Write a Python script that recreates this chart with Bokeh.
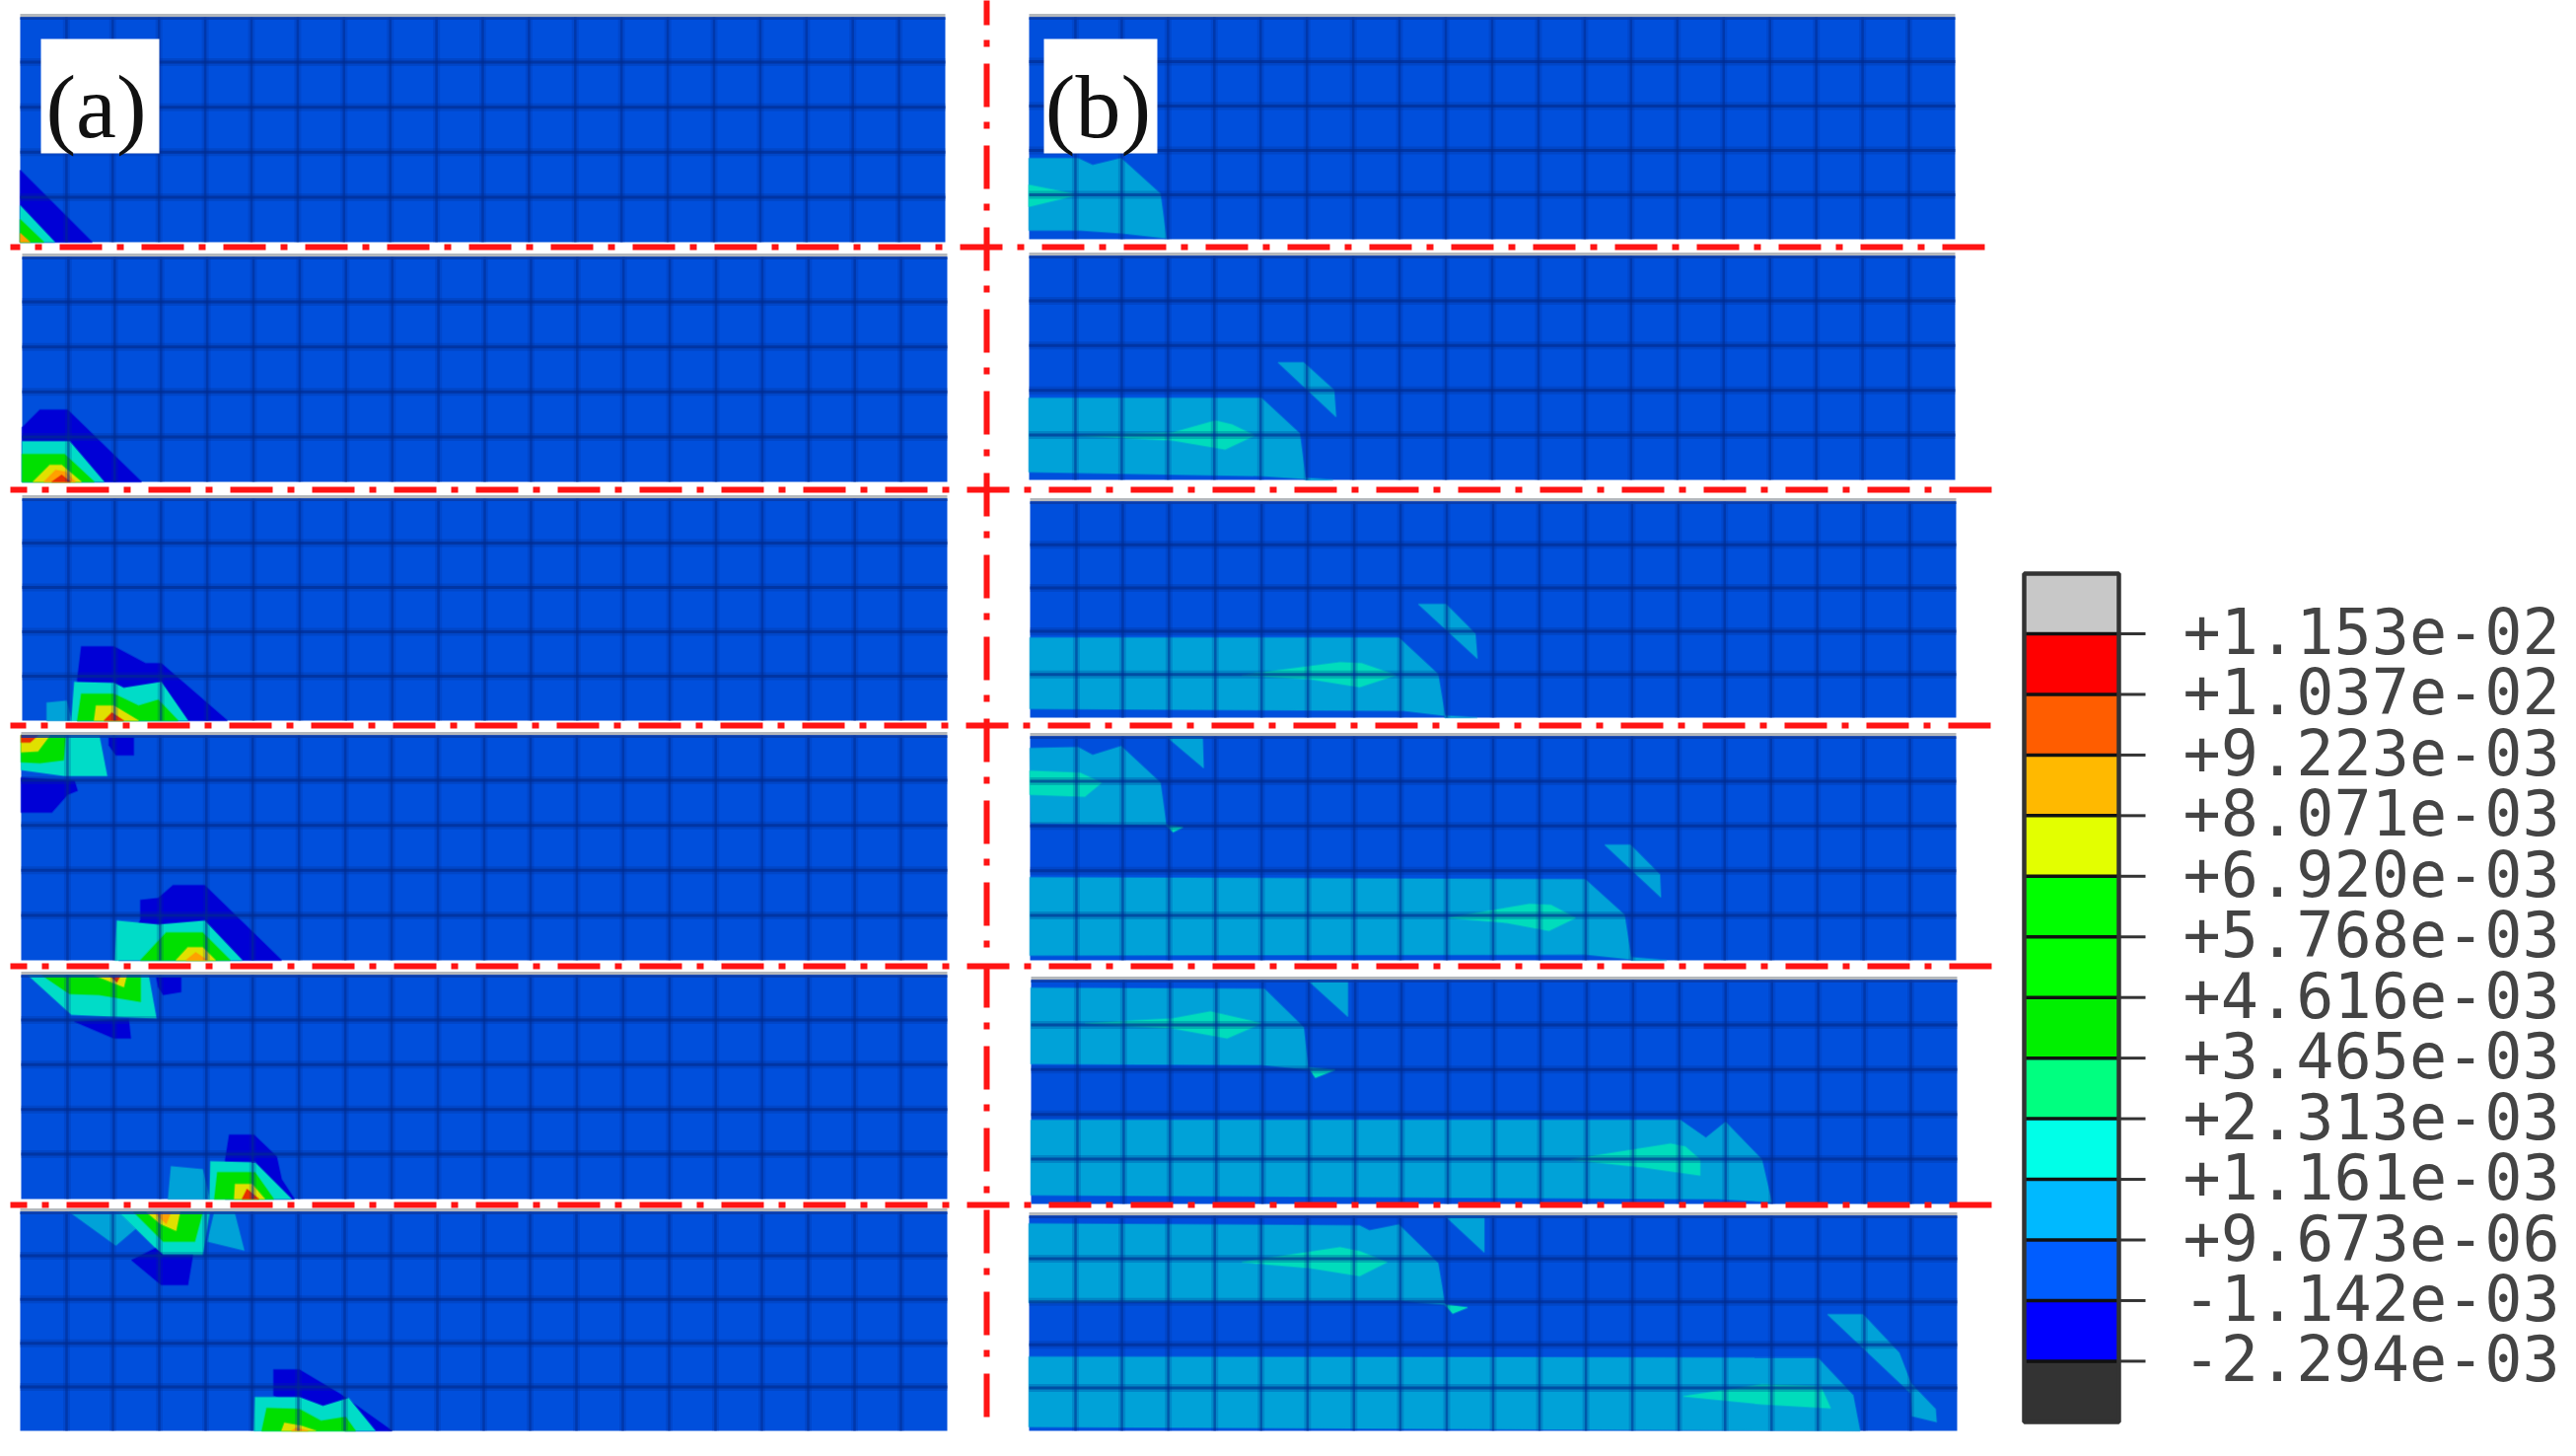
from bokeh.plotting import figure
from bokeh.embed import file_html
from bokeh.resources import INLINE
from bokeh.core.properties import value

# ---------- colours ----------
FIELD = "#004fdc"
MESH = "#002a8c"
DARK = "#0000d6"
CYAN = "#00dcc8"
SKY = "#00a2d8"
TEAL = "#00dcbc"
GREEN = "#00e000"
YEL = "#e0e000"
ORG = "#ffa000"
RED = "#e83000"

# ---------- mesh panels (left, right, top, bottom) ----------
NCOLS = 20
NROWS = 5
PANELS_A = [(20, 958, 17, 245), (22, 960, 260, 488), (22, 960, 505, 730),
            (21, 960, 745, 973), (21, 960, 988, 1215), (20, 960, 1228, 1450)]
PANELS_B = [(1043, 1982, 17, 242), (1043, 1982, 259, 486), (1044, 1983, 508, 727),
            (1044, 1983, 746, 973), (1045, 1984, 993, 1220), (1043, 1984, 1232, 1450)]

# ---------- contour regions, column (a) ----------
A1 = [
    (DARK, [(20, 172), (93, 245), (20, 245)]),
    (CYAN, [(20, 208), (55, 245), (20, 245)]),
    (GREEN, [(20, 222), (44, 245), (20, 245)]),
    (ORG, [(20, 236), (30, 245), (20, 245)]),
]
A2 = [
    (DARK, [(22, 433), (40, 415), (68, 415), (143, 488), (22, 488)]),
    (CYAN, [(22, 447), (70, 447), (105, 488), (22, 488)]),
    (GREEN, [(22, 460), (65, 460), (95, 488), (22, 488)]),
    (YEL, [(33, 488), (50, 471), (62, 471), (82, 488)]),
    (ORG, [(44, 488), (56, 476), (66, 478), (76, 488)]),
    (RED, [(52, 488), (62, 481), (71, 488)]),
]
A3 = [
    (DARK, [(82, 655), (115, 655), (147, 672), (163, 672), (230, 730), (78, 730), (78, 688)]),
    (SKY, [(47, 712), (67, 710), (72, 730), (47, 730)]),
    (CYAN, [(75, 691), (115, 692), (125, 697), (163, 691), (190, 730), (72, 730)]),
    (GREEN, [(82, 703), (115, 703), (140, 715), (160, 709), (180, 730), (78, 730)]),
    (YEL, [(97, 715), (115, 715), (140, 730), (95, 730)]),
    (RED, [(105, 730), (113, 722), (125, 730)]),
]
A4 = [
    (DARK, [(110, 747), (135, 747), (135, 765), (117, 765), (110, 755)]),
    (CYAN, [(21, 745), (100, 745), (108, 786), (65, 786), (21, 780)]),
    (GREEN, [(21, 745), (66, 745), (64, 770), (40, 773), (21, 772)]),
    (YEL, [(21, 745), (50, 745), (38, 761), (21, 762)]),
    (RED, [(21, 745), (38, 745), (30, 752), (21, 752)]),
    (DARK, [(21, 788), (75, 791), (78, 801), (68, 805), (52, 823), (21, 823)]),
    (DARK, [(142, 912), (160, 910), (175, 897), (207, 897), (285, 973), (120, 973), (142, 932)]),
    (CYAN, [(118, 933), (160, 937), (207, 933), (245, 973), (116, 973)]),
    (GREEN, [(142, 973), (168, 945), (205, 945), (233, 973)]),
    (YEL, [(178, 973), (190, 960), (205, 960), (218, 973)]),
    (ORG, [(188, 973), (198, 965), (210, 973)]),
]
A5 = [
    (CYAN, [(28, 988), (150, 988), (158, 1032), (72, 1028)]),
    (GREEN, [(42, 988), (142, 988), (142, 1015), (100, 1008), (70, 1007)]),
    (YEL, [(95, 988), (128, 988), (125, 1000), (110, 994)]),
    (RED, [(110, 988), (122, 988), (118, 995)]),
    (DARK, [(158, 990), (183, 990), (183, 1005), (165, 1008), (160, 1000)]),
    (DARK, [(75, 1035), (130, 1033), (132, 1052), (115, 1052)]),
    (DARK, [(232, 1150), (257, 1150), (280, 1172), (285, 1195), (298, 1215), (228, 1215), (228, 1175)]),
    (SKY, [(173, 1182), (205, 1185), (212, 1215), (170, 1215)]),
    (CYAN, [(213, 1177), (258, 1178), (295, 1215), (212, 1215)]),
    (GREEN, [(220, 1188), (258, 1188), (277, 1215), (217, 1215)]),
    (YEL, [(237, 1215), (238, 1200), (255, 1200), (268, 1215)]),
    (RED, [(245, 1215), (250, 1205), (262, 1215)]),
]
A6 = [
    (SKY, [(217, 1228), (237, 1228), (247, 1267), (210, 1258)]),
    (SKY, [(70, 1228), (120, 1228), (137, 1245), (117, 1262)]),
    (CYAN, [(120, 1228), (212, 1228), (205, 1272), (165, 1272)]),
    (GREEN, [(135, 1228), (205, 1228), (197, 1258), (165, 1258)]),
    (YEL, [(148, 1228), (182, 1228), (178, 1247), (162, 1240)]),
    (ORG, [(155, 1228), (173, 1228), (168, 1240)]),
    (DARK, [(133, 1277), (157, 1265), (165, 1272), (195, 1272), (190, 1302), (163, 1302)]),
    (DARK, [(277, 1388), (303, 1388), (345, 1413), (397, 1450), (350, 1450), (277, 1414)]),
    (CYAN, [(258, 1416), (303, 1416), (327, 1425), (353, 1417), (380, 1450), (257, 1450)]),
    (GREEN, [(270, 1427), (303, 1428), (325, 1440), (350, 1436), (360, 1450), (265, 1450)]),
    (YEL, [(285, 1450), (288, 1442), (305, 1445), (320, 1450)]),
    (ORG, [(295, 1450), (300, 1447), (312, 1450)]),
]

# ---------- contour regions, column (b) ----------
# x values here were read at a slightly wide scale; B_X0/B_X_SCALE calibrates them
B_X0 = 1000
B_X_SCALE = 0.9949
B1 = [
    (SKY, [(1043, 160), (1093, 160), (1108, 167), (1137, 160), (1177, 196), (1183, 241), (1138, 236), (1095, 233), (1043, 233)]),
    (TEAL, [(1043, 187), (1093, 197), (1043, 209)]),
]
B2 = [
    (SKY, [(1043, 403), (1280, 403), (1319, 439), (1325, 485), (1280, 482), (1043, 478)]),
    (SKY, [(1325, 484), (1353, 486), (1325, 486)]),
    (SKY, [(1297, 367), (1323, 367), (1354, 395), (1356, 422)]),
    (TEAL, [(1090, 441), (1190, 438), (1233, 426), (1250, 430), (1273, 441), (1243, 455), (1190, 446)]),
]
B3 = [
    (SKY, [(1044, 646), (1420, 646), (1460, 683), (1467, 725), (1425, 720), (1044, 718)]),
    (SKY, [(1467, 725), (1500, 727), (1467, 727)]),
    (SKY, [(1440, 612), (1468, 612), (1498, 642), (1500, 667)]),
    (TEAL, [(1260, 684), (1360, 671), (1382, 672), (1417, 684), (1380, 696), (1330, 688)]),
]
B4 = [
    (SKY, [(1044, 758), (1093, 757), (1108, 765), (1137, 756), (1177, 793), (1183, 836), (1045, 834)]),
    (TEAL, [(1183, 836), (1200, 838), (1190, 843)]),
    (SKY, [(1183, 746), (1220, 746), (1221, 778)]),
    (TEAL, [(1044, 781), (1095, 783), (1117, 793), (1100, 807), (1044, 805)]),
    (SKY, [(1044, 889), (1610, 891), (1650, 927), (1657, 972), (1610, 967), (1044, 968)]),
    (SKY, [(1657, 970), (1693, 973), (1657, 973)]),
    (SKY, [(1630, 856), (1656, 856), (1686, 886), (1687, 909)]),
    (TEAL, [(1470, 930), (1553, 916), (1575, 917), (1600, 930), (1573, 943), (1530, 935)]),
]
B5 = [
    (SKY, [(1045, 1001), (1283, 1002), (1323, 1041), (1328, 1084), (1280, 1079), (1045, 1078)]),
    (TEAL, [(1328, 1082), (1355, 1084), (1335, 1092)]),
    (SKY, [(1327, 993), (1368, 993), (1368, 1030)]),
    (TEAL, [(1100, 1037), (1190, 1032), (1228, 1025), (1280, 1037), (1245, 1052), (1190, 1042)]),
    (SKY, [(1045, 1135), (1707, 1135), (1733, 1153), (1753, 1137), (1790, 1175), (1800, 1218), (1745, 1215), (1045, 1211)]),
    (TEAL, [(1595, 1175), (1697, 1159), (1712, 1162), (1727, 1175), (1727, 1191), (1670, 1183)]),
]
B6 = [
    (SKY, [(1043, 1240), (1380, 1242), (1390, 1247), (1420, 1241), (1460, 1280), (1467, 1322), (1420, 1318), (1043, 1320)]),
    (TEAL, [(1467, 1322), (1490, 1325), (1475, 1331)]),
    (SKY, [(1467, 1232), (1507, 1232), (1507, 1269)]),
    (TEAL, [(1260, 1279), (1360, 1264), (1380, 1268), (1408, 1279), (1380, 1293), (1330, 1285)]),
    (SKY, [(1043, 1375), (1847, 1376), (1883, 1414), (1890, 1450), (1043, 1446)]),
    (TEAL, [(1710, 1415), (1790, 1403), (1850, 1405), (1860, 1427), (1790, 1423)]),
    (SKY, [(1857, 1332), (1893, 1332), (1930, 1371), (1942, 1402), (1967, 1428), (1968, 1441), (1943, 1435), (1942, 1412)]),
]

# ---------- labels ----------
TAGS = ["(a)", "(b)"]
TAG_BOX = [(41, 161, 39, 155), (1058, 1173, 39, 155)]
TAG_X = [97, 1113]
TAG_Y = [107, 107]

# ---------- red symmetry lines ----------
HLINE_Y = [250, 496, 735, 979, 1221]
HLINE_END = [2015, 2019, 2019, 2021, 2019]
HLINE_OFFSET = [33, 26, 27, 26, 26]
VLINE_X = 1000
VLINE_Y = (-19, 1440)

# ---------- legend ----------
LEVELS = ["+1.153e-02", "+1.037e-02", "+9.223e-03", "+8.071e-03", "+6.920e-03",
          "+5.768e-03", "+4.616e-03", "+3.465e-03", "+2.313e-03", "+1.161e-03",
          "+9.673e-06", "-1.142e-03", "-2.294e-03"]
BANDS = ["#c8c8c8", "#ff0000", "#ff5d00", "#ffb900", "#e3ff00", "#00ff00", "#00ff00",
         "#00f000", "#00ff80", "#00ffe8", "#00b9ff", "#005dff", "#0000ff", "#333333"]
BAR = (2052, 2148)
TICK_END = 2175
BAR_TOP = 581
BAR_BOTTOM = 1441
TICK_FIRST = 642
TICK_STEP = 61.45
TEXT_X = 2213

p = figure(width=2596, height=1460, x_range=(0, 2596), y_range=(1460, 0),
           toolbar_location=None, output_backend="svg", min_border=0)
p.axis.visible = False
p.grid.visible = False
p.outline_line_color = None
p.background_fill_color = "white"
p.border_fill_color = "white"

panels = PANELS_A + PANELS_B
p.quad(left=[q[0] for q in panels], right=[q[1] for q in panels],
       top=[q[2] for q in panels], bottom=[q[3] for q in panels],
       fill_color=FIELD, line_color=None)

for group in [A1, A2, A3, A4, A5, A6]:
    for colour, pts in group:
        p.patch([a for a, _ in pts], [b for _, b in pts], fill_color=colour,
                line_color=colour, line_width=2, line_alpha=0.35)
for group in [B1, B2, B3, B4, B5, B6]:
    for colour, pts in group:
        p.patch([B_X0 + (a - B_X0) * B_X_SCALE for a, _ in pts], [b for _, b in pts],
                fill_color=colour, line_color=colour, line_width=2, line_alpha=0.35)

vx, vy, hx, hy = [], [], [], []
for l, r, t, b in panels:
    for i in range(1, NCOLS):
        x = l + (r - l) * i / NCOLS
        vx.append([x, x])
        vy.append([t, b])
    for j in range(1, NROWS):
        y = t + (b - t) * j / NROWS
        hx.append([l, r])
        hy.append([y, y])
p.multi_line(vx, vy, line_color=MESH, line_width=7, line_alpha=0.2)
p.multi_line(vx, vy, line_color=MESH, line_width=2.5, line_alpha=0.5)
p.multi_line(hx, hy, line_color=MESH, line_width=8, line_alpha=0.25)
p.multi_line(hx, hy, line_color=MESH, line_width=3, line_alpha=0.6)

# panel edges: pale rim above, dark rim just inside the top
p.multi_line([[q[0], q[1]] for q in panels], [[q[2] - 2, q[2] - 2] for q in panels],
             line_color="#b4b8bc", line_width=3)
p.multi_line([[q[0], q[1]] for q in panels], [[q[2] + 1, q[2] + 1] for q in panels],
             line_color="#0a3aa4", line_width=3, line_alpha=0.8)

p.quad(left=[q[0] for q in TAG_BOX], right=[q[1] for q in TAG_BOX],
       top=[q[2] for q in TAG_BOX], bottom=[q[3] for q in TAG_BOX],
       fill_color="white", line_color=None)
p.text(TAG_X, TAG_Y, text=TAGS, text_font=value("Liberation Serif"), text_font_size=value("92px"),
       text_align="center", text_baseline="middle", text_color="#111111")

for y, end, off in zip(HLINE_Y, HLINE_END, HLINE_OFFSET):
    p.line([10, end], [y, y], line_color="#ff1414", line_width=6,
           line_dash="43 15 7 18", line_dash_offset=off)
p.line([VLINE_X, VLINE_X], list(VLINE_Y), line_color="#ff1414", line_width=6, line_dash="44 15 7 17")

n = len(BANDS)
tops = [BAR_TOP] + [TICK_FIRST + TICK_STEP * i for i in range(n - 1)]
bots = [TICK_FIRST + TICK_STEP * i for i in range(n - 1)] + [BAR_BOTTOM]
p.quad(left=BAR[0], right=BAR[1], top=tops, bottom=bots, fill_color=BANDS,
       line_color=None)
ticks = [TICK_FIRST + TICK_STEP * i for i in range(len(LEVELS))]
p.multi_line([[BAR[0], BAR[1]] for _ in ticks], [[t, t] for t in ticks], line_color="#111111", line_width=3.5)
p.multi_line([[BAR[1], TICK_END] for _ in ticks], [[t, t] for t in ticks], line_color="#333333", line_width=3)
p.quad(left=BAR[0], right=BAR[1], top=BAR_TOP, bottom=BAR_BOTTOM, fill_color=None,
       line_color="#333333", line_width=4.5)
p.text([TEXT_X] * len(LEVELS), [t - 3 for t in ticks], text=LEVELS,
       text_font=value("DejaVu Sans Mono"), text_font_size=value("63.5px"),
       text_align="left", text_baseline="middle", text_color="#444444")

open("out.html", "w").write(file_html(p, INLINE))
